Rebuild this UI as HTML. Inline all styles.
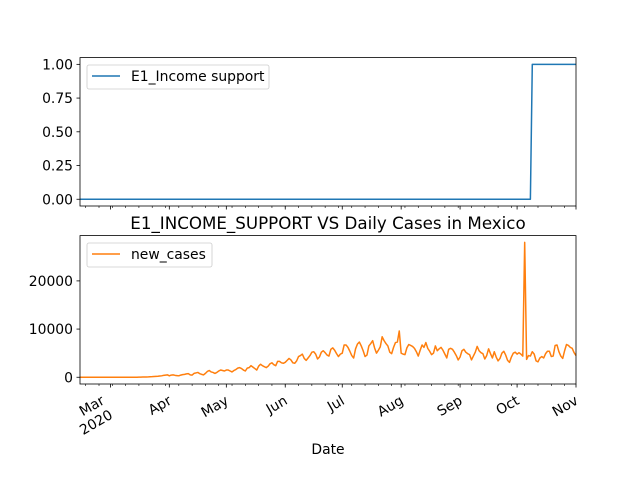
<!DOCTYPE html>
<html><head><meta charset="utf-8"><style>
body{margin:0;background:#fff}
svg{display:block;font-family:"DejaVu Sans","Liberation Sans",sans-serif}
</style></head><body>
<svg id="chart" width="640" height="480" viewBox="0 0 640 480"></svg>
<script>
// ---- data ----
const startDate = '2020-02-14';
const endDate = '2020-11-01';
const policyDates = ['2020-02-14','2020-10-08','2020-10-09','2020-11-01'];
const policyValues = [0,0,1,1];
const casesFebMar = [0,0,0,0,0,0,0,0,0,0,0,0,0,0,0,0,0,0,0,0,0,0,0,0,0,0,0,0,0,0,
 10,20,30,40,50,60,70,100,120,150,180,200,250,300,400,450,500];
const casesApr = [300,450,500,400,350,300,450,550,600,700,750,500,450,800,900,1000,750,600,500,800,1200,1400,1100,1000,800,1000,1300,1500,1400,1300];
const casesMay = [1500,1500,1300,1100,1400,1600,1900,2000,1800,1500,1300,1900,2000,2400,2100,1800,1500,2300,2700,2400,2200,2000,2300,2800,3000,2600,2400,3300,3300,3000,2900];
const casesJun = [3100,3500,3900,3600,3000,2900,3400,4300,4500,4800,3900,3500,4000,4500,5200,5300,4800,3800,4200,5200,5500,5100,4600,4400,5800,6100,5600,4900,4300,4800];
const casesJul = [5000,6700,6700,6200,5400,4500,4000,5900,6900,7300,6500,5500,4300,4600,6500,7000,7600,6100,5000,5600,6300,8400,7600,7000,6500,5200,4900,6200,7200,7300,9600];
const casesAug = [5000,4800,4700,6100,6800,6600,6400,6000,5300,4400,5600,6700,6200,7200,6000,5400,4700,5000,6500,5500,5900,6200,5600,4800,4000,5800,6000,5800,5200,4500,3600];
const casesSep = [4200,5500,5800,5200,4900,4700,3600,4400,5200,6400,5500,5100,4900,3800,4500,5900,4900,4000,5300,4200,3400,3900,5000,5400,4600,3500,3100,4200,5000,5200];
const casesOct = [4800,5100,4800,4400,28000,3700,4500,4400,5300,4800,3400,3200,4000,4300,4000,4900,5400,5400,4300,4400,6600,6700,5300,4400,3900,5500,6800,6600,6200,6000,5100];
const casesNov = [4500];
const monthTicks = ['2020-03-01','2020-04-01','2020-05-01','2020-06-01','2020-07-01','2020-08-01','2020-09-01','2020-10-01','2020-11-01'];
const monthLabels = [['Mar','2020'],['Apr'],['May'],['Jun'],['Jul'],['Aug'],['Sep'],['Oct'],['Nov']];
const topTicks = [0,0.25,0.5,0.75,1];
const topTickLabels = ['0.00','0.25','0.50','0.75','1.00'];
const botTicks = [0,10000,20000];
const botTickLabels = ['0','10000','20000'];

const NS='http://www.w3.org/2000/svg';
const svg=document.getElementById('chart');
function mk(tag,attrs,parent){const e=document.createElementNS(NS,tag);for(const k in attrs)e.setAttribute(k,attrs[k]);(parent||svg).appendChild(e);return e;}
const DAY=86400000;
const FS=13.9;
const t0=Date.parse(startDate+'T00:00:00Z'), t1=Date.parse(endDate+'T00:00:00Z');
const L=80, R=576;
function xs(d){return L+(Date.parse(d+'T00:00:00Z')-t0)/(t1-t0)*(R-L);}
function xi(i){return L+i*DAY/(t1-t0)*(R-L);}
const topAx={y0:57.6,y1:206,min:-0.05,max:1.05};
const botAx={y0:235.6,y1:384,min:-1400,max:29400};
function ys(ax,v){return ax.y1-(v-ax.min)/(ax.max-ax.min)*(ax.y1-ax.y0);}

const cases=[].concat(casesFebMar,casesApr,casesMay,casesJun,casesJul,casesAug,casesSep,casesOct,casesNov);

function drawAxes(ax,name,ticks,labels,withX){
  const g=mk('g',{});
  
  
  ticks.forEach((v,i)=>{
    const y=ys(ax,v);
    const tk=mk('line',{x1:L-3.5,x2:L,y1:y,y2:y,stroke:'#000','stroke-width':0.8},g);
    
    
    const t=mk('text',{x:L-7,y:y+5,'font-size':FS,'text-anchor':'end',fill:'#000'},g);
    
    
    t.textContent=labels[i];
  });
  for(let d=t0+3*DAY; d<=t1; d+=7*DAY){
    const x=L+(d-t0)/(t1-t0)*(R-L);
    const m=mk('line',{x1:x,x2:x,y1:ax.y1,y2:ax.y1+2,stroke:'#000','stroke-width':0.6},g);
    
    
  }
  monthTicks.forEach((d,i)=>{
    const x=xs(d);
    const m=mk('line',{x1:x,x2:x,y1:ax.y1,y2:ax.y1+3.5,stroke:'#000','stroke-width':0.8},g);
    
    
    if(withX){
      const lines=monthLabels[i];
      const two=lines.length>1;
      const grp=mk('g',{transform:`translate(${x+5},${392-(two?9.5:4.8)}) rotate(-30)`},g);
      lines.forEach((s,j)=>{
        const t=mk('text',{x:two?-19:-9.6,y:13+16.5*j,'font-size':FS,'text-anchor':'end',fill:'#000'},grp);
        
        
        t.textContent=s;
      });
    }
  });
  return g;
}
function frame(ax,name){
  const r=mk('rect',{x:L,y:ax.y0,width:R-L,height:ax.y1-ax.y0,fill:'none',stroke:'#000','stroke-width':0.8});
  
  
}
drawAxes(topAx,'top-axes-ticks',topTicks,topTickLabels,false);
const bp=policyDates.map((d,i)=>xs(d).toFixed(2)+','+ys(topAx,policyValues[i]).toFixed(2)).join(' ');
const bl=mk('polyline',{points:bp,fill:'none',stroke:'#1f77b4','stroke-width':1.5,'stroke-linejoin':'round'});


frame(topAx,'top-axes-frame');
drawAxes(botAx,'bottom-axes-ticks',botTicks,botTickLabels,true);
const op=cases.map((v,i)=>xi(i).toFixed(2)+','+ys(botAx,v).toFixed(2)).join(' ');
const ol=mk('polyline',{points:op,fill:'none',stroke:'#ff7f0e','stroke-width':1.5,'stroke-linejoin':'round'});


frame(botAx,'bottom-axes-frame');

const ti=mk('text',{x:328,y:229,'font-size':16.7,'text-anchor':'middle',fill:'#000'});


ti.textContent='E1_INCOME_SUPPORT VS Daily Cases in Mexico';
const xl=mk('text',{x:328,y:454,'font-size':FS,'text-anchor':'middle',fill:'#000'});


xl.textContent='Date';

function legend(x,y,w,color,label,name){
  const g=mk('g',{});
  
  
  mk('rect',{x:x,y:y,width:w,height:24,rx:2,fill:'#fff','fill-opacity':0.8,stroke:'#ccc','stroke-width':0.8},g);
  mk('line',{x1:x+5,x2:x+33,y1:y+11,y2:y+11,stroke:color,'stroke-width':1.5},g);
  const t=mk('text',{x:x+44,y:y+16,'font-size':FS,fill:'#000'},g);
  
  
  t.textContent=label;
}
legend(87,65,182,'#1f77b4','E1_Income support','top-legend');
legend(87,243,125,'#ff7f0e','new_cases','bottom-legend');
</script>
</body></html>
